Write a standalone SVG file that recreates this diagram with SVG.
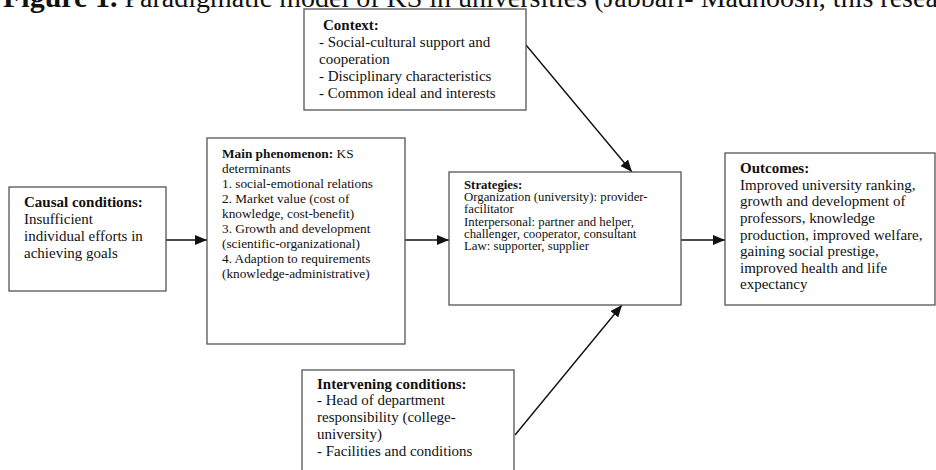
<svg xmlns="http://www.w3.org/2000/svg" width="936" height="470" viewBox="0 0 936 470">
<style>
text{font-family:"Liberation Serif","Times New Roman",serif;fill:#111;}
.box{fill:#fff;stroke:#555;stroke-width:1.3;}
.b{font-weight:bold;}
.t15{font-size:15px;}
.t13{font-size:13.3px;}
.t12{font-size:12.8px;}
.con{stroke:#111;stroke-width:1.4;fill:none;marker-end:url(#ah);}
</style>
<defs>
<marker id="ah" viewBox="0 0 12 10" refX="12" refY="5" markerWidth="12" markerHeight="10" markerUnits="userSpaceOnUse" orient="auto">
<path d="M0,0 L12,5 L0,10 Z" fill="#111"/>
</marker>
</defs>
<rect width="936" height="470" fill="#fff"/>
<text x="3" y="7" style="font-size:28px"><tspan class="b" style="font-size:30px">Figure 1.</tspan> Paradigmatic model of KS in universities (Jabbari- Madhoosh, this research)</text>

<g id="connectors">
<line class="con" x1="166" y1="240" x2="207" y2="240"/>
<line class="con" x1="405" y1="240" x2="449" y2="240"/>
<line class="con" x1="681" y1="240" x2="725" y2="240"/>
<line class="con" x1="526" y1="45" x2="632" y2="172"/>
<line class="con" x1="515" y1="435" x2="622" y2="305"/>
</g>

<g id="context">
<rect class="box" x="304" y="9" width="222" height="101"/>
<text class="t15"><tspan class="b" x="323" y="30">Context:</tspan><tspan x="319" y="47">- Social-cultural  support and</tspan><tspan x="319" y="64">cooperation</tspan><tspan x="319" y="81">- Disciplinary  characteristics</tspan><tspan x="319" y="98">- Common ideal and interests</tspan></text>
</g>

<g id="causal">
<rect class="box" x="9" y="187" width="157" height="104"/>
<text class="t15"><tspan class="b" x="24" y="207">Causal conditions:</tspan><tspan x="24" y="224">Insufficient</tspan><tspan x="24" y="241">individual efforts in</tspan><tspan x="24" y="258">achieving goals</tspan></text>
</g>

<g id="main">
<rect class="box" x="207" y="138" width="198" height="206"/>
<text class="t13"><tspan x="222" y="158"><tspan class="b">Main phenomenon:</tspan> KS</tspan><tspan x="222" y="173">determinants</tspan><tspan x="222" y="188">1. social-emotional relations</tspan><tspan x="222" y="203">2. Market value (cost of</tspan><tspan x="222" y="218">knowledge, cost-benefit)</tspan><tspan x="222" y="233">3. Growth and development</tspan><tspan x="222" y="248">(scientific-organizational)</tspan><tspan x="222" y="263">4. Adaption to requirements</tspan><tspan x="222" y="278">(knowledge-administrative)</tspan></text>
</g>

<g id="strategies">
<rect class="box" x="449" y="172" width="232" height="133"/>
<text class="t12"><tspan class="b" x="464" y="189">Strategies:</tspan><tspan x="464" y="201">Organization (university): provider-</tspan><tspan x="464" y="213">facilitator</tspan><tspan x="464" y="226">Interpersonal: partner and helper,</tspan><tspan x="464" y="238">challenger, cooperator, consultant</tspan><tspan x="464" y="250">Law: supporter, supplier</tspan></text>
</g>

<g id="outcomes">
<rect class="box" x="725" y="153" width="210" height="152"/>
<text class="t15"><tspan class="b" x="740" y="173">Outcomes:</tspan><tspan x="740" y="190">Improved university ranking,</tspan><tspan x="740" y="206">growth and development of</tspan><tspan x="740" y="223">professors, knowledge</tspan><tspan x="740" y="240">production, improved  welfare,</tspan><tspan x="740" y="256">gaining social prestige,</tspan><tspan x="740" y="273">improved health and life</tspan><tspan x="740" y="289">expectancy</tspan></text>
</g>

<g id="intervening">
<rect class="box" x="302" y="370" width="212" height="110"/>
<text class="t15"><tspan class="b" x="317" y="389">Intervening conditions:</tspan><tspan x="317" y="405">- Head of department</tspan><tspan x="317" y="422">responsibility  (college-</tspan><tspan x="317" y="439">university)</tspan><tspan x="317" y="456">- Facilities  and conditions</tspan></text>
</g>
</svg>
